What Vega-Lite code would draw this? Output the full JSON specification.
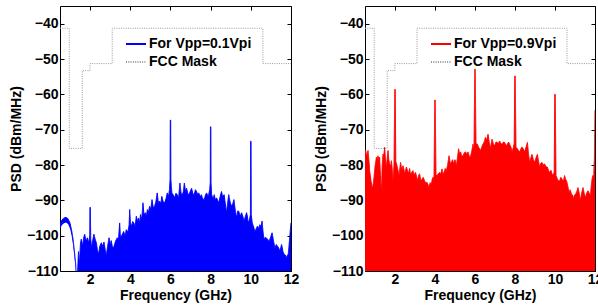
{
  "$schema": "https://vega.github.io/schema/vega-lite/v6.json",
  "padding": {"left": 8, "top": 5, "right": 0, "bottom": 0},
  "datasets": {
    "mask": [
      {"f": 0.5, "psd": -41.3}, {"f": 0.96, "psd": -41.3}, {"f": 0.96, "psd": -75.3}, {"f": 1.61, "psd": -75.3},
      {"f": 1.61, "psd": -53.3}, {"f": 1.99, "psd": -53.3}, {"f": 1.99, "psd": -51.3}, {"f": 3.1, "psd": -51.3},
      {"f": 3.1, "psd": -41.3}, {"f": 10.6, "psd": -41.3}, {"f": 10.6, "psd": -51.3}, {"f": 12, "psd": -51.3}
    ],
    "blue": [
      {"f": 0.5, "psd": -96.5, "lo": -98}, {"f": 0.6, "psd": -95.5, "lo": -97}, {"f": 0.7, "psd": -95.0, "lo": -96.5},
      {"f": 0.8, "psd": -94.8, "lo": -96.3}, {"f": 0.9, "psd": -95.2, "lo": -96.7}, {"f": 1.0, "psd": -96.5, "lo": -98},
      {"f": 1.08, "psd": -98.5, "lo": -100}, {"f": 1.15, "psd": -101, "lo": -102.5}, {"f": 1.22, "psd": -104.5, "lo": -106},
      {"f": 1.28, "psd": -108, "lo": -109.5}, {"f": 1.32, "psd": -112, "lo": -113.5},
      {"f": 1.36, "psd": -112, "lo": -110}, {"f": 1.42, "psd": -104.5, "lo": -110}, {"f": 1.47, "psd": -108, "lo": -110},
      {"f": 1.52, "psd": -102, "lo": -110}, {"f": 1.56, "psd": -101, "lo": -110}, {"f": 1.62, "psd": -103, "lo": -110},
      {"f": 1.68, "psd": -100.5, "lo": -110}, {"f": 1.73, "psd": -99.6, "lo": -110}, {"f": 1.8, "psd": -101.5, "lo": -110},
      {"f": 1.86, "psd": -100.6, "lo": -110}, {"f": 1.93, "psd": -102, "lo": -110}, {"f": 1.98, "psd": -100, "lo": -110},
      {"f": 1.99, "psd": -92, "lo": -110}, {"f": 2.01, "psd": -92, "lo": -110}, {"f": 2.03, "psd": -101, "lo": -110},
      {"f": 2.08, "psd": -103.4, "lo": -110}, {"f": 2.14, "psd": -101, "lo": -110}, {"f": 2.19, "psd": -99.6, "lo": -110},
      {"f": 2.25, "psd": -101, "lo": -110}, {"f": 2.31, "psd": -102, "lo": -110}, {"f": 2.36, "psd": -104, "lo": -110},
      {"f": 2.42, "psd": -105.3, "lo": -110}, {"f": 2.48, "psd": -103, "lo": -110}, {"f": 2.56, "psd": -102, "lo": -110},
      {"f": 2.62, "psd": -103, "lo": -110}, {"f": 2.69, "psd": -101.8, "lo": -110}, {"f": 2.75, "psd": -104, "lo": -110},
      {"f": 2.8, "psd": -105.7, "lo": -110}, {"f": 2.87, "psd": -103, "lo": -110}, {"f": 2.94, "psd": -100.6, "lo": -110},
      {"f": 3.0, "psd": -102.5, "lo": -110}, {"f": 3.05, "psd": -101.4, "lo": -110}, {"f": 3.12, "psd": -103.5, "lo": -110},
      {"f": 3.19, "psd": -103, "lo": -110}, {"f": 3.27, "psd": -101.5, "lo": -110}, {"f": 3.35, "psd": -100.6, "lo": -110},
      {"f": 3.41, "psd": -101.5, "lo": -110}, {"f": 3.47, "psd": -96.4, "lo": -110}, {"f": 3.51, "psd": -100.5, "lo": -110},
      {"f": 3.55, "psd": -100.2, "lo": -110}, {"f": 3.61, "psd": -99.5, "lo": -110}, {"f": 3.67, "psd": -98.8, "lo": -110},
      {"f": 3.74, "psd": -100, "lo": -110}, {"f": 3.8, "psd": -98.3, "lo": -110}, {"f": 3.88, "psd": -99, "lo": -110},
      {"f": 3.94, "psd": -97, "lo": -110}, {"f": 3.97, "psd": -92.6, "lo": -110}, {"f": 4.01, "psd": -96.5, "lo": -110},
      {"f": 4.05, "psd": -97.3, "lo": -110}, {"f": 4.12, "psd": -96, "lo": -110}, {"f": 4.18, "psd": -96.4, "lo": -110},
      {"f": 4.24, "psd": -97.5, "lo": -110}, {"f": 4.3, "psd": -94.5, "lo": -110}, {"f": 4.36, "psd": -96, "lo": -110},
      {"f": 4.41, "psd": -95, "lo": -110}, {"f": 4.46, "psd": -96.5, "lo": -110}, {"f": 4.51, "psd": -94, "lo": -110},
      {"f": 4.57, "psd": -95.5, "lo": -110}, {"f": 4.63, "psd": -90.7, "lo": -110}, {"f": 4.68, "psd": -94, "lo": -110},
      {"f": 4.75, "psd": -93.5, "lo": -110}, {"f": 4.8, "psd": -94.5, "lo": -110}, {"f": 4.85, "psd": -92.6, "lo": -110},
      {"f": 4.9, "psd": -93.5, "lo": -110}, {"f": 4.96, "psd": -91.7, "lo": -110}, {"f": 5.02, "psd": -92.5, "lo": -110},
      {"f": 5.08, "psd": -89.8, "lo": -110}, {"f": 5.14, "psd": -92, "lo": -110}, {"f": 5.21, "psd": -91.7, "lo": -110},
      {"f": 5.27, "psd": -90.5, "lo": -110}, {"f": 5.34, "psd": -87.9, "lo": -110}, {"f": 5.4, "psd": -91, "lo": -110},
      {"f": 5.46, "psd": -90.2, "lo": -110}, {"f": 5.52, "psd": -91, "lo": -110}, {"f": 5.57, "psd": -88.9, "lo": -110},
      {"f": 5.64, "psd": -90.5, "lo": -110}, {"f": 5.71, "psd": -90.7, "lo": -110}, {"f": 5.78, "psd": -89.5, "lo": -110},
      {"f": 5.84, "psd": -87.9, "lo": -110}, {"f": 5.9, "psd": -89, "lo": -110}, {"f": 5.95, "psd": -87, "lo": -110},
      {"f": 5.98, "psd": -84, "lo": -110}, {"f": 5.99, "psd": -67.3, "lo": -110}, {"f": 6.01, "psd": -67.3, "lo": -110},
      {"f": 6.02, "psd": -84, "lo": -110}, {"f": 6.07, "psd": -87.9, "lo": -110}, {"f": 6.14, "psd": -88.5, "lo": -110},
      {"f": 6.21, "psd": -89.3, "lo": -110}, {"f": 6.27, "psd": -88, "lo": -110}, {"f": 6.34, "psd": -88.4, "lo": -110},
      {"f": 6.4, "psd": -89.5, "lo": -110}, {"f": 6.47, "psd": -85.1, "lo": -110}, {"f": 6.53, "psd": -88, "lo": -110},
      {"f": 6.59, "psd": -88.4, "lo": -110}, {"f": 6.64, "psd": -87.5, "lo": -110}, {"f": 6.69, "psd": -85.1, "lo": -110},
      {"f": 6.75, "psd": -87.5, "lo": -110}, {"f": 6.8, "psd": -86.6, "lo": -110}, {"f": 6.86, "psd": -88, "lo": -110},
      {"f": 6.92, "psd": -88.4, "lo": -110}, {"f": 6.98, "psd": -87.5, "lo": -110}, {"f": 7.05, "psd": -86.6, "lo": -110},
      {"f": 7.11, "psd": -88, "lo": -110}, {"f": 7.18, "psd": -88.4, "lo": -110}, {"f": 7.24, "psd": -87, "lo": -110},
      {"f": 7.3, "psd": -87.5, "lo": -110}, {"f": 7.36, "psd": -88.5, "lo": -110}, {"f": 7.41, "psd": -87.9, "lo": -110},
      {"f": 7.48, "psd": -89, "lo": -110}, {"f": 7.54, "psd": -88.4, "lo": -110}, {"f": 7.6, "psd": -89.5, "lo": -110},
      {"f": 7.68, "psd": -89.8, "lo": -110}, {"f": 7.74, "psd": -88.5, "lo": -110}, {"f": 7.8, "psd": -87.9, "lo": -110},
      {"f": 7.88, "psd": -89, "lo": -110}, {"f": 7.95, "psd": -87, "lo": -110}, {"f": 7.98, "psd": -85, "lo": -110},
      {"f": 7.99, "psd": -69.2, "lo": -110}, {"f": 8.01, "psd": -69.2, "lo": -110}, {"f": 8.02, "psd": -85, "lo": -110},
      {"f": 8.05, "psd": -88.4, "lo": -110}, {"f": 8.12, "psd": -89.5, "lo": -110}, {"f": 8.18, "psd": -88.4, "lo": -110},
      {"f": 8.24, "psd": -90, "lo": -110}, {"f": 8.29, "psd": -89.3, "lo": -110}, {"f": 8.35, "psd": -90, "lo": -110},
      {"f": 8.41, "psd": -90.7, "lo": -110}, {"f": 8.47, "psd": -89, "lo": -110}, {"f": 8.54, "psd": -87.5, "lo": -110},
      {"f": 8.6, "psd": -89, "lo": -110}, {"f": 8.67, "psd": -88.4, "lo": -110}, {"f": 8.73, "psd": -91, "lo": -110},
      {"f": 8.79, "psd": -93.5, "lo": -110}, {"f": 8.85, "psd": -90.5, "lo": -110}, {"f": 8.9, "psd": -88.4, "lo": -110},
      {"f": 8.97, "psd": -90.5, "lo": -110}, {"f": 9.04, "psd": -91.7, "lo": -110}, {"f": 9.1, "psd": -91, "lo": -110},
      {"f": 9.16, "psd": -89.8, "lo": -110}, {"f": 9.22, "psd": -92.5, "lo": -110}, {"f": 9.29, "psd": -95, "lo": -110},
      {"f": 9.35, "psd": -93, "lo": -110}, {"f": 9.4, "psd": -93.1, "lo": -110}, {"f": 9.47, "psd": -94.5, "lo": -110},
      {"f": 9.54, "psd": -93.5, "lo": -110}, {"f": 9.6, "psd": -94.5, "lo": -110}, {"f": 9.67, "psd": -95.9, "lo": -110},
      {"f": 9.73, "psd": -94.5, "lo": -110}, {"f": 9.79, "psd": -93.5, "lo": -110}, {"f": 9.84, "psd": -95, "lo": -110},
      {"f": 9.87, "psd": -96.4, "lo": -110}, {"f": 9.93, "psd": -95.5, "lo": -110}, {"f": 9.98, "psd": -94, "lo": -110},
      {"f": 9.99, "psd": -73.3, "lo": -110}, {"f": 10.01, "psd": -73.3, "lo": -110}, {"f": 10.02, "psd": -94, "lo": -110},
      {"f": 10.07, "psd": -96.4, "lo": -110}, {"f": 10.14, "psd": -97.5, "lo": -110}, {"f": 10.2, "psd": -98.8, "lo": -110},
      {"f": 10.27, "psd": -98, "lo": -110}, {"f": 10.33, "psd": -97.3, "lo": -110}, {"f": 10.39, "psd": -98, "lo": -110},
      {"f": 10.45, "psd": -96.9, "lo": -110}, {"f": 10.51, "psd": -97.5, "lo": -110}, {"f": 10.56, "psd": -95.9, "lo": -110},
      {"f": 10.61, "psd": -99, "lo": -110}, {"f": 10.66, "psd": -101, "lo": -110}, {"f": 10.72, "psd": -100.5, "lo": -110},
      {"f": 10.78, "psd": -100.7, "lo": -110}, {"f": 10.84, "psd": -101, "lo": -110}, {"f": 10.9, "psd": -101.7, "lo": -110},
      {"f": 10.98, "psd": -100.5, "lo": -110}, {"f": 11.06, "psd": -99.2, "lo": -110}, {"f": 11.13, "psd": -101.5, "lo": -110},
      {"f": 11.2, "psd": -103.4, "lo": -110}, {"f": 11.27, "psd": -102.5, "lo": -110}, {"f": 11.33, "psd": -103, "lo": -110},
      {"f": 11.39, "psd": -103.5, "lo": -110}, {"f": 11.44, "psd": -104.4, "lo": -110}, {"f": 11.49, "psd": -103.5, "lo": -110},
      {"f": 11.53, "psd": -102.5, "lo": -110}, {"f": 11.6, "psd": -104.5, "lo": -110}, {"f": 11.66, "psd": -105.3, "lo": -110},
      {"f": 11.72, "psd": -105.5, "lo": -110}, {"f": 11.78, "psd": -106.3, "lo": -110}, {"f": 11.82, "psd": -105.5, "lo": -110},
      {"f": 11.86, "psd": -105.3, "lo": -110}, {"f": 11.9, "psd": -103, "lo": -110}, {"f": 11.94, "psd": -100.2, "lo": -110},
      {"f": 11.97, "psd": -98, "lo": -110}, {"f": 12.0, "psd": -96.4, "lo": -110}
    ],
    "red": [
      {"f": 0.5, "psd": -76}, {"f": 0.53, "psd": -75.9}, {"f": 0.6, "psd": -77.5}, {"f": 0.65, "psd": -75.9}, {"f": 0.7, "psd": -79},
      {"f": 0.73, "psd": -81.5}, {"f": 0.8, "psd": -84.5}, {"f": 0.87, "psd": -86.8}, {"f": 0.92, "psd": -85}, {"f": 0.95, "psd": -83.5},
      {"f": 1.0, "psd": -80.5}, {"f": 1.07, "psd": -77.8}, {"f": 1.11, "psd": -78.5}, {"f": 1.15, "psd": -77.4}, {"f": 1.19, "psd": -78.5},
      {"f": 1.23, "psd": -77.8}, {"f": 1.27, "psd": -83}, {"f": 1.32, "psd": -87.7}, {"f": 1.36, "psd": -80}, {"f": 1.4, "psd": -76.9},
      {"f": 1.44, "psd": -77.5}, {"f": 1.48, "psd": -75.0}, {"f": 1.52, "psd": -78}, {"f": 1.57, "psd": -81.1}, {"f": 1.61, "psd": -78},
      {"f": 1.65, "psd": -75.9}, {"f": 1.69, "psd": -78.5}, {"f": 1.73, "psd": -79.7}, {"f": 1.78, "psd": -80.5}, {"f": 1.82, "psd": -78.8},
      {"f": 1.86, "psd": -81}, {"f": 1.9, "psd": -84.5}, {"f": 1.95, "psd": -80}, {"f": 1.99, "psd": -58.6}, {"f": 2.01, "psd": -58.6},
      {"f": 2.04, "psd": -79}, {"f": 2.1, "psd": -80.2}, {"f": 2.15, "psd": -81.5}, {"f": 2.2, "psd": -83}, {"f": 2.24, "psd": -81},
      {"f": 2.28, "psd": -79.3}, {"f": 2.34, "psd": -81.5}, {"f": 2.4, "psd": -80.2}, {"f": 2.44, "psd": -81}, {"f": 2.48, "psd": -82.5},
      {"f": 2.53, "psd": -81.5}, {"f": 2.57, "psd": -80.6}, {"f": 2.62, "psd": -81.5}, {"f": 2.68, "psd": -82.5}, {"f": 2.73, "psd": -81},
      {"f": 2.78, "psd": -83}, {"f": 2.84, "psd": -82}, {"f": 2.9, "psd": -81.6}, {"f": 2.96, "psd": -83}, {"f": 3.02, "psd": -82.1},
      {"f": 3.07, "psd": -83}, {"f": 3.12, "psd": -84.5}, {"f": 3.18, "psd": -83}, {"f": 3.23, "psd": -82.5}, {"f": 3.29, "psd": -84.5},
      {"f": 3.35, "psd": -84}, {"f": 3.41, "psd": -83.5}, {"f": 3.48, "psd": -84.5}, {"f": 3.54, "psd": -85}, {"f": 3.6, "psd": -84.9},
      {"f": 3.65, "psd": -85.5}, {"f": 3.7, "psd": -86.4}, {"f": 3.76, "psd": -85}, {"f": 3.82, "psd": -85.4}, {"f": 3.86, "psd": -84},
      {"f": 3.9, "psd": -83.5}, {"f": 3.95, "psd": -84}, {"f": 3.99, "psd": -61.6}, {"f": 4.01, "psd": -61.6}, {"f": 4.05, "psd": -83},
      {"f": 4.1, "psd": -83}, {"f": 4.16, "psd": -82.5}, {"f": 4.23, "psd": -82.1}, {"f": 4.29, "psd": -82.5}, {"f": 4.35, "psd": -81.1},
      {"f": 4.4, "psd": -82.5}, {"f": 4.45, "psd": -82.1}, {"f": 4.51, "psd": -81}, {"f": 4.57, "psd": -81.6}, {"f": 4.63, "psd": -80},
      {"f": 4.7, "psd": -77.4}, {"f": 4.76, "psd": -79.5}, {"f": 4.82, "psd": -79.3}, {"f": 4.88, "psd": -78.5}, {"f": 4.93, "psd": -79.7},
      {"f": 5.0, "psd": -78.5}, {"f": 5.07, "psd": -80.2}, {"f": 5.12, "psd": -78}, {"f": 5.18, "psd": -75.4}, {"f": 5.23, "psd": -77},
      {"f": 5.28, "psd": -76.3}, {"f": 5.34, "psd": -77.5}, {"f": 5.4, "psd": -77.4}, {"f": 5.47, "psd": -76.5}, {"f": 5.53, "psd": -76.3},
      {"f": 5.59, "psd": -77}, {"f": 5.65, "psd": -76.3}, {"f": 5.71, "psd": -77.5}, {"f": 5.77, "psd": -77.8}, {"f": 5.84, "psd": -76},
      {"f": 5.9, "psd": -74.1}, {"f": 5.95, "psd": -75.5}, {"f": 5.99, "psd": -52.9}, {"f": 6.01, "psd": -52.9}, {"f": 6.05, "psd": -74},
      {"f": 6.12, "psd": -74.1}, {"f": 6.18, "psd": -75}, {"f": 6.23, "psd": -75.4}, {"f": 6.28, "psd": -75.9}, {"f": 6.34, "psd": -74.9},
      {"f": 6.4, "psd": -74.1}, {"f": 6.46, "psd": -73.5}, {"f": 6.52, "psd": -72.2}, {"f": 6.58, "psd": -73}, {"f": 6.65, "psd": -71.3},
      {"f": 6.71, "psd": -73.5}, {"f": 6.77, "psd": -75.4}, {"f": 6.81, "psd": -74}, {"f": 6.85, "psd": -72.7}, {"f": 6.92, "psd": -74},
      {"f": 6.98, "psd": -74.6}, {"f": 7.05, "psd": -73.5}, {"f": 7.12, "psd": -73.6}, {"f": 7.17, "psd": -74}, {"f": 7.23, "psd": -73.2},
      {"f": 7.3, "psd": -74}, {"f": 7.37, "psd": -74.1}, {"f": 7.42, "psd": -73.5}, {"f": 7.48, "psd": -73.6}, {"f": 7.55, "psd": -74.5},
      {"f": 7.62, "psd": -74.1}, {"f": 7.68, "psd": -73.5}, {"f": 7.73, "psd": -74.1}, {"f": 7.8, "psd": -75}, {"f": 7.85, "psd": -76.3},
      {"f": 7.92, "psd": -75}, {"f": 7.96, "psd": -74}, {"f": 7.99, "psd": -54.8}, {"f": 8.01, "psd": -54.8}, {"f": 8.05, "psd": -75},
      {"f": 8.12, "psd": -75.4}, {"f": 8.18, "psd": -76}, {"f": 8.23, "psd": -76.3}, {"f": 8.29, "psd": -75.5}, {"f": 8.35, "psd": -74.9},
      {"f": 8.42, "psd": -75.5}, {"f": 8.48, "psd": -76.3}, {"f": 8.55, "psd": -75}, {"f": 8.62, "psd": -73.6}, {"f": 8.68, "psd": -77},
      {"f": 8.73, "psd": -79.3}, {"f": 8.79, "psd": -78}, {"f": 8.85, "psd": -77}, {"f": 8.92, "psd": -78.5}, {"f": 8.98, "psd": -79.3},
      {"f": 9.05, "psd": -78}, {"f": 9.12, "psd": -77}, {"f": 9.18, "psd": -79}, {"f": 9.23, "psd": -80.6}, {"f": 9.29, "psd": -79.5},
      {"f": 9.35, "psd": -79.3}, {"f": 9.42, "psd": -80}, {"f": 9.48, "psd": -79.7}, {"f": 9.55, "psd": -80.5}, {"f": 9.62, "psd": -80.6},
      {"f": 9.67, "psd": -81.5}, {"f": 9.73, "psd": -82.1}, {"f": 9.8, "psd": -81.5}, {"f": 9.85, "psd": -82.5}, {"f": 9.92, "psd": -83},
      {"f": 9.96, "psd": -82}, {"f": 9.99, "psd": -60}, {"f": 10.01, "psd": -60}, {"f": 10.05, "psd": -83}, {"f": 10.12, "psd": -84},
      {"f": 10.18, "psd": -84.5}, {"f": 10.23, "psd": -84.5}, {"f": 10.29, "psd": -83.5}, {"f": 10.35, "psd": -84}, {"f": 10.42, "psd": -84.5},
      {"f": 10.48, "psd": -83}, {"f": 10.53, "psd": -84}, {"f": 10.58, "psd": -84.5}, {"f": 10.64, "psd": -86}, {"f": 10.7, "psd": -87.7},
      {"f": 10.76, "psd": -87}, {"f": 10.82, "psd": -88.2}, {"f": 10.88, "psd": -88.5}, {"f": 10.93, "psd": -89.6}, {"f": 10.98, "psd": -88.5},
      {"f": 11.03, "psd": -88.2}, {"f": 11.09, "psd": -87.5}, {"f": 11.15, "psd": -86.4}, {"f": 11.21, "psd": -88}, {"f": 11.27, "psd": -90.1},
      {"f": 11.33, "psd": -88}, {"f": 11.4, "psd": -86.4}, {"f": 11.46, "psd": -88}, {"f": 11.52, "psd": -89.2}, {"f": 11.58, "psd": -88},
      {"f": 11.65, "psd": -87.3}, {"f": 11.71, "psd": -88}, {"f": 11.77, "psd": -88.7}, {"f": 11.81, "psd": -86}, {"f": 11.85, "psd": -84},
      {"f": 11.89, "psd": -83}, {"f": 11.93, "psd": -83.5}, {"f": 11.97, "psd": -78}, {"f": 12.0, "psd": -64.5}
    ]
  },
  "hconcat": [
    {
      "width": 231, "height": 265,
      "layer": [
        {
          "data": {"name": "blue"},
          "mark": {"type": "area", "color": "#0000ff", "clip": true, "opacity": 1},
          "encoding": {
            "x": {"field": "f", "type": "quantitative", "scale": {"domain": [0.5, 12], "nice": false, "zero": false},
                  "axis": {"orient": "bottom", "values": [2, 4, 6, 8, 10, 12], "title": "Frequency (GHz)", "labelFlush": false, "labelPadding": 5, "titlePadding": 2}},
            "y": {"field": "psd", "type": "quantitative", "scale": {"domain": [-110, -35], "nice": false, "zero": false},
                  "axis": {"orient": "left", "values": [-110, -100, -90, -80, -70, -60, -50, -40], "title": "PSD (dBm/MHz)", "labelFlush": false, "labelPadding": 6, "titlePadding": 3}},
            "y2": {"field": "lo"}
          }
        },
        {
          "data": {"name": "blue"},
          "mark": {"type": "line", "clip": true, "strokeWidth": 1},
          "encoding": {
            "x": {"field": "f", "type": "quantitative", "axis": null},
            "y": {"field": "psd", "type": "quantitative", "axis": null},
            "color": {"datum": "For Vpp=0.1Vpi", "type": "nominal", "scale": {"domain": ["For Vpp=0.1Vpi", "FCC Mask"], "range": ["#0000ff", "#999999"]},
                      "legend": {"title": null, "orient": "none", "legendX": 65, "legendY": 29}},
            "strokeDash": {"datum": "For Vpp=0.1Vpi", "type": "nominal", "scale": {"domain": ["For Vpp=0.1Vpi", "FCC Mask"], "range": [[1, 0], [1, 1.3]]},
                      "legend": {"title": null, "orient": "none", "legendX": 65, "legendY": 29}}
          }
        },
        {
          "data": {"name": "mask"},
          "mark": {"type": "line", "clip": true, "strokeWidth": 1},
          "encoding": {
            "x": {"field": "f", "type": "quantitative", "axis": {"orient": "top", "values": [2, 4, 6, 8, 10, 12], "labels": false, "title": null}},
            "y": {"field": "psd", "type": "quantitative", "axis": {"orient": "right", "values": [-110, -100, -90, -80, -70, -60, -50, -40], "labels": false, "title": null}},
            "color": {"datum": "FCC Mask", "type": "nominal"},
            "strokeDash": {"datum": "FCC Mask", "type": "nominal"}
          }
        }
      ],
      "resolve": {"axis": {"x": "independent", "y": "independent"}}
    },
    {
      "width": 230, "height": 265,
      "layer": [
        {
          "data": {"name": "red"},
          "mark": {"type": "area", "color": "#ff0000", "clip": true, "opacity": 1},
          "encoding": {
            "x": {"field": "f", "type": "quantitative", "scale": {"domain": [0.5, 12], "nice": false, "zero": false},
                  "axis": {"orient": "bottom", "values": [2, 4, 6, 8, 10, 12], "title": "Frequency (GHz)", "labelFlush": false, "labelPadding": 5, "titlePadding": 2}},
            "y": {"field": "psd", "type": "quantitative", "scale": {"domain": [-110, -35], "nice": false, "zero": false},
                  "axis": {"orient": "left", "values": [-110, -100, -90, -80, -70, -60, -50, -40], "title": "PSD (dBm/MHz)", "labelFlush": false, "labelPadding": 6, "titlePadding": 3}},
            "y2": {"datum": -110}
          }
        },
        {
          "data": {"name": "red"},
          "mark": {"type": "line", "clip": true, "strokeWidth": 1},
          "encoding": {
            "x": {"field": "f", "type": "quantitative", "axis": null},
            "y": {"field": "psd", "type": "quantitative", "axis": null},
            "color": {"datum": "For Vpp=0.9Vpi", "type": "nominal", "scale": {"domain": ["For Vpp=0.9Vpi", "FCC Mask"], "range": ["#ff0000", "#999999"]},
                      "legend": {"title": null, "orient": "none", "legendX": 65, "legendY": 29}},
            "strokeDash": {"datum": "For Vpp=0.9Vpi", "type": "nominal", "scale": {"domain": ["For Vpp=0.9Vpi", "FCC Mask"], "range": [[1, 0], [1, 1.3]]},
                      "legend": {"title": null, "orient": "none", "legendX": 65, "legendY": 29}}
          }
        },
        {
          "data": {"name": "mask"},
          "mark": {"type": "line", "clip": true, "strokeWidth": 1},
          "encoding": {
            "x": {"field": "f", "type": "quantitative", "axis": {"orient": "top", "values": [2, 4, 6, 8, 10, 12], "labels": false, "title": null}},
            "y": {"field": "psd", "type": "quantitative", "axis": {"orient": "right", "values": [-110, -100, -90, -80, -70, -60, -50, -40], "labels": false, "title": null}},
            "color": {"datum": "FCC Mask", "type": "nominal"},
            "strokeDash": {"datum": "FCC Mask", "type": "nominal"}
          }
        }
      ],
      "resolve": {"axis": {"x": "independent", "y": "independent"}}
    }
  ],
  "resolve": {"scale": {"color": "independent", "strokeDash": "independent"}, "legend": {"color": "independent", "strokeDash": "independent"}},
  "config": {
    "view": {"stroke": "black", "strokeWidth": 1},
    "concat": {"spacing": 13},
    "axis": {"domain": false, "grid": false, "ticks": true, "tickColor": "black", "tickSize": -4, "tickWidth": 1,
             "labelFont": "Liberation Sans", "labelFontSize": 14, "labelFontWeight": "bold", "labelColor": "black",
             "titleFont": "Liberation Sans", "titleFontSize": 14, "titleFontWeight": "bold", "titleColor": "black"},
    "legend": {"symbolType": "stroke", "symbolSize": 400, "symbolStrokeWidth": 2, "labelFont": "Liberation Sans", "labelFontSize": 14,
               "labelFontWeight": "bold", "labelColor": "black", "labelOffset": 2, "clipHeight": 18, "rowPadding": 0, "padding": 0}
  }
}
